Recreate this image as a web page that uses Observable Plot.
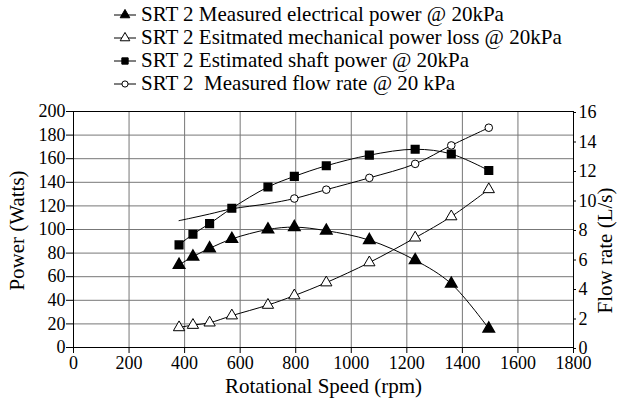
<!DOCTYPE html>
<html>
<head>
<meta charset="utf-8">
<script src="https://cdn.jsdelivr.net/npm/d3@7"></script>
<script src="https://cdn.jsdelivr.net/npm/@observablehq/plot@0.6"></script>
<style>
  html, body { margin: 0; padding: 0; background: #ffffff; }
  #wrap { width: 618px; height: 406px; position: relative; font-family: "Liberation Serif", "Times New Roman", Times, "DejaVu Serif", serif; }
  #legend { position: absolute; left: 112px; top: 3px; }
  .row { height: 23px; display: flex; align-items: center; font-size: 21px; line-height: 23px; white-space: pre; color: #000; }
  .row svg { margin-right: 3px; }
  #chart { position: absolute; left: 0; top: 100px; }
</style>
</head>
<body>
<div id="wrap">
  <div id="legend"></div>
  <div id="chart"></div>
</div>
<script>
// Rotational speed (rpm) of each measurement
const rpm = [380, 430, 490, 570, 700, 795, 910, 1065, 1230, 1360, 1495];
// Power series (Watts)
const electricalPower = [70, 77, 84, 92, 100, 102, 99, 91, 74, 54, 16];
const mechanicalLoss = [17, 19, 21, 27, 36, 44, 55, 72, 93, 111, 134];
const shaftPower = [87, 96, 105, 118, 136, 145, 154, 163, 168, 164, 150];
// Flow rate (L/s): trend line and measured markers
const flowRate = [8.6, 8.8, 9.05, 9.4, 9.75, 10.1, 10.7, 11.5, 12.45, 13.7, 14.9];
const flowMarkerFrom = 5;
// Axis ticks
const xTicks = [0, 200, 400, 600, 800, 1000, 1200, 1400, 1600, 1800];
const yTicks = [0, 20, 40, 60, 80, 100, 120, 140, 160, 180, 200];
const flowTicks = [0, 2, 4, 6, 8, 10, 12, 14, 16];
const flowToPower = 200 / 16;
// Legend labels
const seriesNames = [
  "SRT 2 Measured electrical power @ 20kPa",
  "SRT 2 Esitmated mechanical power loss @ 20kPa",
  "SRT 2 Estimated shaft power @ 20kPa",
  "SRT 2  Measured flow rate @ 20 kPa"
];
const seriesSymbols = ["triangle", "triangle", "square", "circle"];
const seriesFill = ["black", "white", "black", "white"];

const power = (vals) => rpm.map((r, i) => ({rpm: r, v: vals[i]}));
const elec = power(electricalPower);
const mech = power(mechanicalLoss);
const shaft = power(shaftPower);
const flow = rpm.map((r, i) => ({rpm: r, v: flowRate[i] * flowToPower}));
const flowMarks = flow.slice(flowMarkerFrom);

const font = "'Liberation Serif', 'Times New Roman', Times, 'DejaVu Serif', serif";
const chart = Plot.plot({
  width: 618,
  height: 306,
  marginTop: 11,
  marginBottom: 59,
  marginLeft: 73,
  marginRight: 45,
  style: {fontFamily: font, fontSize: "18px", color: "#000", background: "transparent", overflow: "visible"},
  x: {domain: [0, 1800]},
  y: {domain: [0, 200]},
  marks: [
    Plot.gridX(xTicks, {stroke: "#777", strokeOpacity: 1, strokeWidth: 1}),
    Plot.gridY(yTicks, {stroke: "#777", strokeOpacity: 1, strokeWidth: 1}),
    Plot.frame({stroke: "#000", strokeWidth: 1}),
    Plot.axisX(xTicks, {tickSize: 6, tickPadding: 3, label: null, fontSize: 18, tickFormat: d => String(d)}),
    Plot.axisY(yTicks, {anchor: "left", tickSize: 7, tickPadding: 1, label: null, fontSize: 18, tickFormat: d => String(d)}),
    Plot.axisY(flowTicks.map(f => f * flowToPower), {anchor: "right", tickSize: 2, tickPadding: 3, label: null, fontSize: 18, dy: 1, tickFormat: d => String(d / flowToPower)}),
    Plot.line(elec, {x: "rpm", y: "v", stroke: "#000", strokeWidth: 1, curve: "catmull-rom"}),
    Plot.line(mech, {x: "rpm", y: "v", stroke: "#000", strokeWidth: 1, curve: "catmull-rom"}),
    Plot.line(shaft, {x: "rpm", y: "v", stroke: "#000", strokeWidth: 1, curve: "catmull-rom"}),
    Plot.line(flow, {x: "rpm", y: "v", stroke: "#000", strokeWidth: 1, curve: "catmull-rom"}),
    Plot.dot(elec, {x: "rpm", y: "v", symbol: "triangle", r: 4.2, fill: "#000", stroke: "#000"}),
    Plot.dot(mech, {x: "rpm", y: "v", symbol: "triangle", r: 4.2, fill: "#fff", stroke: "#000", strokeWidth: 1}),
    Plot.dot(shaft, {x: "rpm", y: "v", symbol: "square", r: 4.3, fill: "#000", stroke: "#000"}),
    Plot.dot(flowMarks, {x: "rpm", y: "v", symbol: "circle", r: 3.8, fill: "#fff", stroke: "#000", strokeWidth: 1}),
    Plot.text(["Rotational Speed (rpm)"], {frameAnchor: "bottom", dy: 45, fontSize: 21, fill: "#000"}),
    Plot.text(["Power (Watts)"], {frameAnchor: "left", textAnchor: "middle", dx: -56, dy: 1, rotate: -90, fontSize: 21, fill: "#000"}),
    Plot.text(["Flow rate (L/s)"], {frameAnchor: "right", textAnchor: "middle", dx: 32, dy: 21, rotate: -90, fontSize: 21, fill: "#000"})
  ]
});
document.getElementById("chart").appendChild(chart);

// Legend
const legend = d3.select("#legend");
seriesNames.forEach((name, i) => {
  const row = legend.append("div").attr("class", "row");
  const svg = row.append("svg").attr("width", 26).attr("height", 14);
  svg.append("line").attr("x1", 2).attr("x2", 24).attr("y1", 7).attr("y2", 7).attr("stroke", "#000").attr("stroke-width", 1);
  const sym = seriesSymbols[i] === "triangle" ? d3.symbolTriangle : seriesSymbols[i] === "square" ? d3.symbolSquare : d3.symbolCircle;
  const size = seriesSymbols[i] === "circle" ? 30 : 40;
  svg.append("path").attr("d", d3.symbol(sym, size)()).attr("transform", "translate(13,7)")
    .attr("fill", seriesFill[i]).attr("stroke", "#000").attr("stroke-width", 1);
  row.append("span").text(name);
});
</script>
</body>
</html>
